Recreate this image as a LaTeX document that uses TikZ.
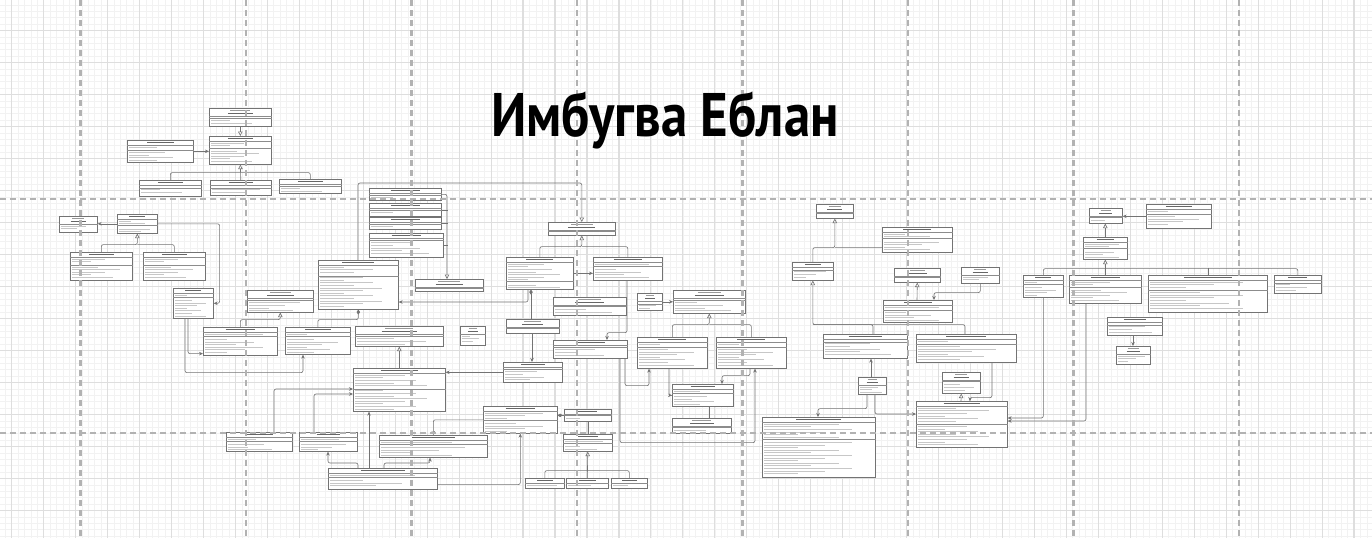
\documentclass[tikz,border=0pt]{standalone}
\usepackage{fontspec}
\newfontfamily\titlefont{PT Sans}
\usetikzlibrary{arrows.meta,calc}

\newcommand{\umlbox}[7]{%
  \node[umlcls, minimum width=#4*0.02cm, minimum height=#5*0.02cm] (#1) at (#2,#3) {};
  \draw[umlrule] ($(#1.north west)+(0,#6)$) -- ($(#1.north east)+(0,#6)$);
  \ifnum#7>#6 \draw[umlrule] ($(#1.north west)+(0,#7)$) -- ($(#1.north east)+(0,#7)$);\fi
  \ifnum#6>6
    \draw[umlstereo] ($(#1.north)+(-0.16*#4,2.3)$) -- ++(0.32*#4,0);
    \draw[umlhead] ($(#1.north)+(-0.2*#4,5.3)$) -- ++(0.4*#4,0);
  \else
    \draw[umlhead] ($(#1.north)+(-0.2*#4,#6/2)$) -- ++(0.4*#4,0);
  \fi
  \foreach \k in {0,...,22}{
    \pgfmathsetmacro\rowy{#6+2.2+2.6*\k}
    \pgfmathsetmacro\rowl{#4*(0.3+0.12*mod(\k*3+#4,5))}
    \pgfmathtruncatemacro\rowok{((\rowy<#7-1) || (\rowy>#7+1.6)) && (\rowy<#5-1.2)}
    \ifnum\rowok=1 \draw[umltext] ($(#1.north west)+(2,\rowy)$) -- ++(\rowl,0);\fi
  }
}

\begin{document}
\begin{tikzpicture}[
  x=0.02cm, y=-0.02cm,
  gridminor/.style={draw=black!5, line width=0.35pt},
  gridmajor/.style={draw=black!13, line width=0.65pt},
  pagebreak/.style={draw=black!30, line width=1.3pt, dash pattern=on 0.12cm off 0.08cm},
  umlcls/.style={rectangle, draw=black!55, fill=white, line width=0.35pt, anchor=north west, inner sep=0pt},
  umlrule/.style={draw=black!45, line width=0.3pt},
  umlhead/.style={draw=black!60, line width=0.6pt},
  umlstereo/.style={draw=black!40, line width=0.5pt},
  umltext/.style={draw=black!22, line width=0.55pt},
  link/.style={draw=black!55, line width=0.35pt, rounded corners=0.04cm},
  inh/.style={link, -{Triangle[open, length=0.09cm, width=0.09cm]}},
  assoc/.style={link, -{Stealth[length=0.08cm, width=0.07cm]}},
  agg/.style={link, -{Diamond[length=0.1cm, width=0.07cm]}},
  titletext/.style={font=\titlefont\bfseries\fontsize{35}{40}\selectfont, text=black, inner sep=0pt,
    transform shape, xscale=0.86}
]
  \useasboundingbox (0,0) rectangle (1372,538);
  \fill[white] (0,0) rectangle (1372,538);

  \foreach \k in {-1,...,212} \draw[gridminor] ({11.7+6.392*\k},0) -- ++(0,538);
  \foreach \k in {-4,...,79} \draw[gridminor] (0,{30.5+6.4*\k}) -- ++(1372,0);
  \foreach \k in {0,...,42} \draw[gridmajor] ({11.7+31.96*\k},0) -- ++(0,538);
  \foreach \k in {0,...,15} \draw[gridmajor] (0,{30.5+32*\k}) -- ++(1372,0);

  % classes, top left
  \umlbox{A1}{209}{108}{62}{18}{8}{10}
  \umlbox{A2}{209}{136}{62}{28}{5}{12}
  \umlbox{A3}{127}{140}{66}{22}{5}{10}
  \umlbox{A4}{139}{180}{62}{16}{5}{8}
  \umlbox{A5}{210}{180}{61}{15}{5}{8}
  \umlbox{A6}{279}{179}{62}{14}{5}{7}

  \umlbox{B7}{59}{216}{38}{16}{8}{8}
  \umlbox{B8}{117}{214}{40}{19}{5}{11}
  \umlbox{B9}{70}{252}{62}{28}{5}{13}
  \umlbox{B10}{143}{252}{62}{28}{5}{13}
  \umlbox{Table}{173}{288}{40}{30}{5}{9}
  \umlbox{Bint}{247}{290}{66}{22}{8}{10}
  \umlbox{Bbig}{318}{260}{80}{49}{5}{16}
  \umlbox{C1}{369}{188}{72}{12}{5}{7}
  \umlbox{C2}{369}{203}{72}{13}{5}{7}
  \umlbox{C3}{369}{217}{72}{12}{5}{7}
  \umlbox{C4}{369}{233}{74}{24}{5}{7}
  \umlbox{C5}{415}{279}{68}{12}{8}{9}
  \umlbox{TimeSlot}{203}{327}{74}{28}{5}{9}
  \umlbox{D2}{285}{327}{65}{27}{5}{9}
  \umlbox{D3}{355}{326}{88}{20}{8}{10}
  \umlbox{D4}{460}{326}{25}{19}{8}{8}
  \umlbox{E}{353}{368}{92}{43}{5}{21}
  \umlbox{F1}{226}{432}{66}{19}{5}{9}
  \umlbox{F2}{299}{432}{58}{19}{5}{9}
  \umlbox{F3}{379}{435}{108}{22}{5}{9}
  \umlbox{F4}{328}{468}{109}{21}{5}{9}
  \umlbox{G1}{483}{406}{74}{27}{5}{14}

  % classes, middle
  \umlbox{H1}{548}{222}{67}{13}{8}{9}
  \umlbox{H2}{506}{257}{67}{32}{5}{24}
  \umlbox{H3}{593}{257}{69}{23}{5}{9}
  \umlbox{H4}{553}{297}{73}{18}{8}{9}
  \umlbox{H5}{506}{319}{53}{14}{8}{9}
  \umlbox{H6}{637}{293}{25}{17}{8}{11}
  \umlbox{H7}{673}{290}{72}{23}{8}{10}
  \umlbox{H8}{553}{340}{74}{18}{5}{7}
  \umlbox{H9}{637}{337}{70}{31}{5}{10}
  \umlbox{H10}{716}{337}{70}{31}{5}{10}
  \umlbox{H11}{503}{362}{59}{20}{5}{7}
  \umlbox{H12}{564}{409}{47}{12}{5}{6}
  \umlbox{H13}{563}{434}{49}{17}{5}{9}
  \umlbox{H14a}{525}{478}{39}{10}{5}{5}
  \umlbox{H14b}{566}{478}{42}{10}{5}{5}
  \umlbox{H14c}{611}{478}{36}{10}{5}{5}
  \umlbox{H15}{672}{384}{61}{22}{5}{9}
  \umlbox{H16}{672}{418}{59}{15}{8}{9}
  \umlbox{H17}{762}{417}{113}{60}{5}{22}
  \umlbox{H18}{858}{377}{28}{17}{8}{8}
  \umlbox{H19}{823}{334}{84}{24}{5}{8}
  \umlbox{H20}{916}{334}{100}{28}{5}{10}
  \umlbox{H21}{942}{372}{38}{21}{8}{9}
  \umlbox{H22}{916}{401}{91}{46}{5}{23}
  \umlbox{H23}{1116}{346}{34}{18}{8}{8}

  % classes, right
  \umlbox{I1}{816}{204}{37}{14}{8}{9}
  \umlbox{I2}{792}{262}{41}{18}{5}{8}
  \umlbox{I3}{882}{227}{70}{25}{5}{11}
  \umlbox{I4}{894}{268}{46}{14}{8}{9}
  \umlbox{I5}{961}{267}{38}{16}{8}{8}
  \umlbox{I6}{883}{300}{69}{22}{5}{10}
  \umlbox{J1}{1089}{208}{33}{15}{8}{9}
  \umlbox{J2}{1146}{204}{65}{24}{5}{10}
  \umlbox{J3}{1083}{237}{44}{22}{5}{11}
  \umlbox{J4}{1023}{275}{40}{22}{5}{9}
  \umlbox{J5}{1069}{275}{72}{28}{5}{12}
  \umlbox{J6}{1148}{275}{119}{37}{5}{15}
  \umlbox{J7}{1274}{275}{47}{18}{5}{8}
  \umlbox{J8}{1107}{317}{55}{18}{5}{8}

  % connectors
  \draw[assoc] (A3.east) -- (A3.east -| A2.west);
  \draw[inh] (A1.south) -- (A2.north);
  \draw[inh] (A5.north) -- (A2.south);
  \draw[link] (A4.north) |- ($(A2.south)+(0,8)$);
  \draw[link] (A6.north) |- ($(A2.south)+(0,8)$);

  \draw[assoc] (B8.west) -- (B8.west -| B7.east);
  \draw[inh] (B9.north) |- ($(B8.south)+(0,11)$) -- (B8.south);
  \draw[link] (B10.north) |- ($(B8.south)+(0,11)$);
  \draw[assoc] (B8.east) -| ($(Table.east)+(6,0)$) -- (Table.east);
  \draw[assoc] ($(Table.south west)+(12,0)$) -- ++(0,54) -| ($(D2.south west)+(18,0)$);
  \draw[assoc] ($(Table.south west)+(15,0)$) |- ($(TimeSlot.south west)+(0,-2)$);
  \draw[inh] (TimeSlot.north) |- ($(Bint.south)+(0,7)$) -- (Bint.south);
  \draw[agg] (D2.north) |- ($(Bbig.south)+(0,10)$) -- (Bbig.south);
  \draw[inh] (E.north) -- (E.north |- D3.south);
  \draw[assoc] ($(F1.north west)+(48,0)$) |- ($(E.north west)+(0,21)$);
  \draw[assoc] ($(F2.north west)+(15,0)$) |- ($(E.north west)+(0,26)$);
  \draw[assoc] ($(F4.north west)+(30,0)$) -- ++(0,-5) -| ($(F2.south west)+(29,0)$);
  \draw[assoc] ($(F4.north west)+(41,0)$) -- ($(E.south west)+(16,0)$);
  \draw[assoc] ($(F4.north west)+(56,0)$) -- ++(0,-5) -| ($(F3.south west)+(51,0)$);
  \draw[assoc] ($(F4.south east)+(0,-5)$) -| (G1.south);
  \draw[assoc] (G1.west) -| (F3.north);
  \draw[assoc] (H11.west) -- (H11.west -| E.east);
  \draw[agg] (H12.west) -- (H12.west -| G1.east);
  \draw[link] (H12.south) -- (H13.north);
  \draw[inh] (H14b.north) -- (H13.south);
  \draw[link] (H14a.north) |- ($(H13.south)+(0,19)$) -| (H14c.north);

  \draw[inh] (H2.north) |- ($(H1.south)+(0,11)$) -- (H1.south);
  \draw[link] (H3.north) |- ($(H1.south)+(0,11)$);
  \draw[assoc] (H2.east) -- (H2.east -| H3.west);
  \draw[agg] ($(H5.north west)+(25,0)$) -- ($(H2.south west)+(25,0)$);
  \draw[assoc] ($(H5.south west)+(26,0)$) -- ($(H11.north west)+(29,0)$);
  \draw[assoc] ($(H2.south west)+(22,0)$) |- ($(Bbig.north east)+(0,42)$);
  \draw[inh] ($(Bbig.north west)+(40,0)$) |- ($(H1.north)+(0,-39)$) -- (H1.north);
  \draw[inh] (C1.east) -| ($(C5.north west)+(32,0)$);
  \draw[link] (C2.east) -- ++(6,0);
  \draw[link] (C3.east) -- ++(6,0);
  \draw[link] (C4.east) -- ++(4,0);
  \draw[assoc] ($(H3.south west)+(34,0)$) -- ++(0,52) -| ($(H8.north west)+(54,0)$);
  \draw[assoc] ($(H8.south west)+(67,0)$) -- ++(0,84) -| ($(H10.south west)+(39,0)$);
  \draw[assoc] ($(H8.south west)+(72,0)$) -- ++(0,27) -| ($(H9.south west)+(12,0)$);
  \draw[assoc] ($(H9.south west)+(32,0)$) |- (H15.west);
  \draw[assoc] ($(H10.south west)+(34,0)$) -- ++(0,7) -| ($(H15.north west)+(50,0)$);
  \draw[link] ($(H15.south west)+(37,0)$) -- ($(H16.north west)+(37,0)$);
  \draw[inh] (H9.north) |- ($(H7.south)+(0,11)$) -- (H7.south);
  \draw[link] (H10.north) |- ($(H7.south)+(0,11)$);
  \draw[assoc] (H6.east) -- (H6.east -| H7.west);

  \draw[assoc] ($(H18.south west)+(9,0)$) -- ++(0,14) -| ($(H17.north west)+(56,0)$);
  \draw[assoc] ($(H18.north west)+(13,0)$) -- ($(H19.south west)+(48,0)$);
  \draw[assoc] ($(H18.south west)+(17,0)$) |- ($(H22.north west)+(0,13)$);
  \draw[inh] ($(H19.north west)+(50,0)$) |- ($(I2.south)+(0,44)$) -- (I2.south);
  \draw[link] ($(H20.north west)+(49,0)$) |- ($(I2.south)+(0,44)$);
  \draw[inh] (I2.north) |- ($(I1.south)+(0,29)$) -- (I1.south);
  \draw[link] ($(I1.south)+(0,29)$) -- ($(I3.south west)+(0,-5)$);
  \draw[inh] ($(I6.north west)+(34,0)$) -- (I4.south);
  \draw[assoc] (I5.south) -- ++(0,9) -| ($(I6.north west)+(51,0)$);
  \draw[inh] ($(H22.north west)+(45,0)$) -- (H21.south);
  \draw[assoc] ($(H20.south west)+(76,0)$) -- ++(0,35) -| ($(H22.north west)+(54,0)$);
  \draw[assoc] (J4.south) |- ($(H22.north east)+(0,17)$);
  \draw[assoc] ($(J5.south west)+(17,0)$) |- ($(H22.north east)+(0,20)$);
  \draw[assoc] (J2.west) -- (J2.west -| J1.east);
  \draw[inh] (J3.north) -- (J3.north |- J1.south);
  \draw[inh] (J5.north) -- (J3.south);
  \draw[link] (J4.north) |- ($(J3.south)+(0,9)$) -| (J7.north);
  \draw[link] ($(J6.north west)+(60,0)$) -- ++(0,-7);
  \draw[assoc] ($(J8.south west)+(26,0)$) -- ($(H23.north west)+(17,0)$);

  % page breaks
  \foreach \k in {0,...,7} \draw[pagebreak] ({80.5+165.5*\k},0) -- ++(0,538);
  \draw[pagebreak] (0,199) -- (1372,199);
  \draw[pagebreak] (0,433) -- (1372,433);

  \node[titletext] (title) at (665,120) {Имбугва Еблан};
\end{tikzpicture}
\end{document}
